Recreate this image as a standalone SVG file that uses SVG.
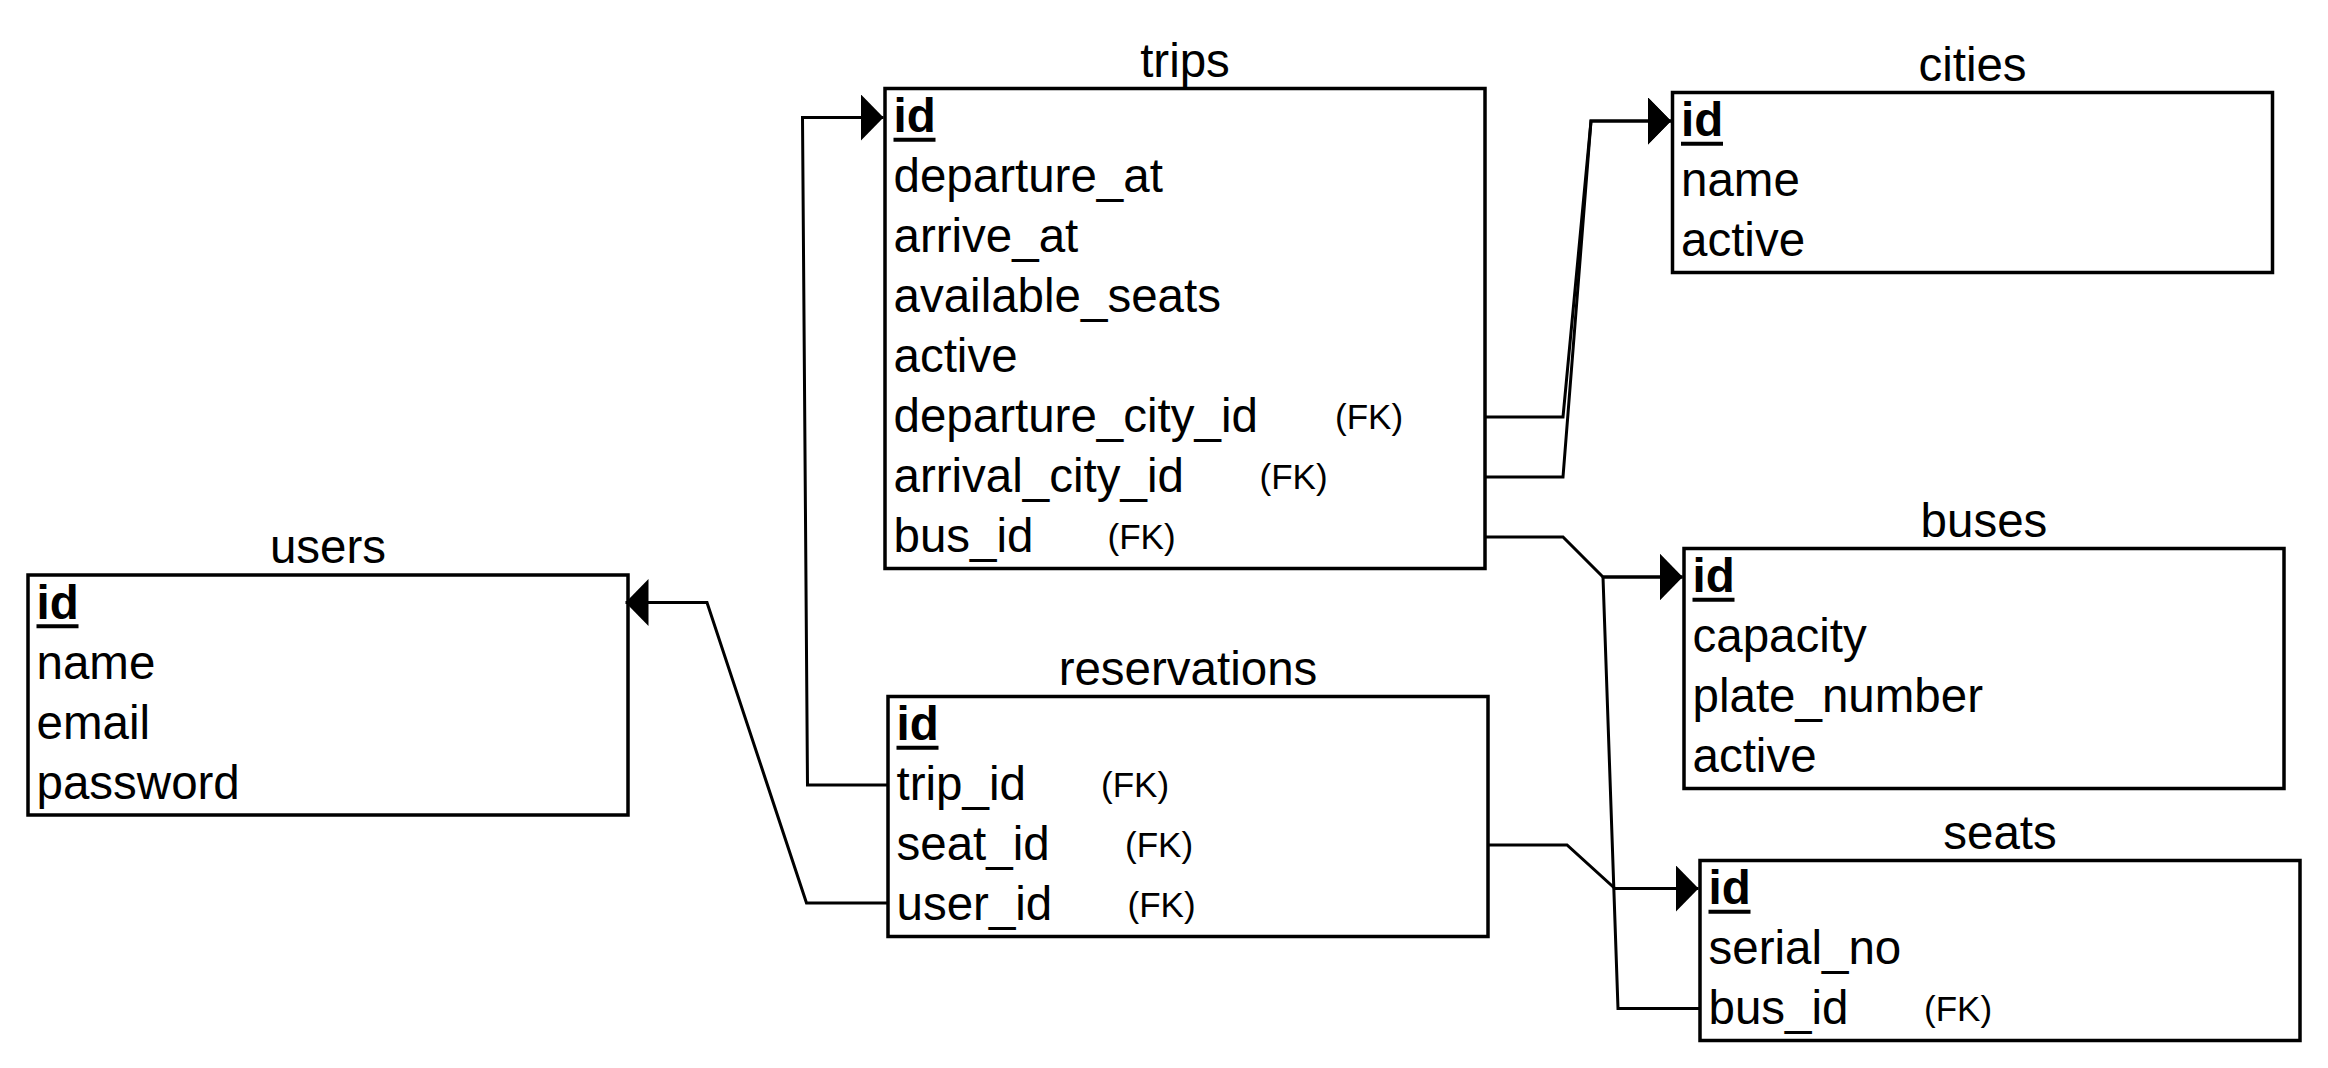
<svg xmlns="http://www.w3.org/2000/svg" width="2328" height="1068" viewBox="0 0 2328 1068">
<style>
.box{fill:#fff;stroke:#000;stroke-width:3.5}
.t{font-family:"Liberation Sans",Arial,sans-serif;font-size:47.5px;fill:#000}
.title{text-anchor:middle}
.pk{font-weight:bold}
.fk{font-size:35px}
.ul{stroke:#000;stroke-width:4}
.conn{fill:none;stroke:#000;stroke-width:3;stroke-linejoin:miter}
</style>
<defs>
<marker id="arrow" markerUnits="userSpaceOnUse" viewBox="0 0 23 47" refX="23" refY="23.5" markerWidth="23" markerHeight="47" orient="auto">
<path d="M0,0 L23,23.5 L0,47 Z" fill="#000"/>
</marker>
</defs>
<rect width="2328" height="1068" fill="#fff"/>

<g id="trips">
<text class="t title" x="1185" y="76.8">trips</text>
<rect class="box" x="885" y="88.5" width="600" height="480"/>
<text class="t pk" x="893.5" y="132">id</text>
<line class="ul" x1="893.5" y1="139.7" x2="935.5" y2="139.7"/>
<text class="t" x="893.5" y="192">departure_at</text>
<text class="t" x="893.5" y="252">arrive_at</text>
<text class="t" x="893.5" y="312">available_seats</text>
<text class="t" x="893.5" y="372">active</text>
<text class="t" x="893.5" y="432">departure_city_id</text>
<text class="t fk" x="1335" y="429">(FK)</text>
<text class="t" x="893.5" y="492">arrival_city_id</text>
<text class="t fk" x="1259.5" y="489">(FK)</text>
<text class="t" x="893.5" y="552">bus_id</text>
<text class="t fk" x="1107.5" y="549">(FK)</text>
</g>

<g id="cities">
<text class="t title" x="1972.5" y="80.8">cities</text>
<rect class="box" x="1672.5" y="92.5" width="600" height="180"/>
<text class="t pk" x="1681" y="136">id</text>
<line class="ul" x1="1681" y1="143.7" x2="1723" y2="143.7"/>
<text class="t" x="1681" y="196">name</text>
<text class="t" x="1681" y="256">active</text>
</g>

<g id="users">
<text class="t title" x="328" y="563.3">users</text>
<rect class="box" x="28" y="575" width="600" height="240"/>
<text class="t pk" x="36.5" y="618.5">id</text>
<line class="ul" x1="36.5" y1="626.2" x2="78.5" y2="626.2"/>
<text class="t" x="36.5" y="678.5">name</text>
<text class="t" x="36.5" y="738.5">email</text>
<text class="t" x="36.5" y="798.5">password</text>
</g>

<g id="reservations">
<text class="t title" x="1188" y="684.8">reservations</text>
<rect class="box" x="888" y="696.5" width="600" height="240"/>
<text class="t pk" x="896.5" y="740">id</text>
<line class="ul" x1="896.5" y1="747.7" x2="938.5" y2="747.7"/>
<text class="t" x="896.5" y="800">trip_id</text>
<text class="t fk" x="1101" y="797">(FK)</text>
<text class="t" x="896.5" y="860">seat_id</text>
<text class="t fk" x="1125" y="857">(FK)</text>
<text class="t" x="896.5" y="920">user_id</text>
<text class="t fk" x="1127.5" y="917">(FK)</text>
</g>

<g id="buses">
<text class="t title" x="1984" y="536.8">buses</text>
<rect class="box" x="1684" y="548.5" width="600" height="240"/>
<text class="t pk" x="1692.5" y="592">id</text>
<line class="ul" x1="1692.5" y1="599.7" x2="1734.5" y2="599.7"/>
<text class="t" x="1692.5" y="652">capacity</text>
<text class="t" x="1692.5" y="712">plate_number</text>
<text class="t" x="1692.5" y="772">active</text>
</g>

<g id="seats">
<text class="t title" x="2000" y="848.8">seats</text>
<rect class="box" x="1700" y="860.5" width="600" height="180"/>
<text class="t pk" x="1708.5" y="904">id</text>
<line class="ul" x1="1708.5" y1="911.7" x2="1750.5" y2="911.7"/>
<text class="t" x="1708.5" y="964">serial_no</text>
<text class="t" x="1708.5" y="1024">bus_id</text>
<text class="t fk" x="1924" y="1021">(FK)</text>
</g>

<g id="connectors">
<path class="conn" d="M888,785 H807.5 L802.5,117.5 H883.5" marker-end="url(#arrow)"/>
<path class="conn" d="M888,903 H806.5 L707,602.5 H625.5" marker-end="url(#arrow)"/>
<path class="conn" d="M1485,417 H1563 L1591,121 H1671" marker-end="url(#arrow)"/>
<path class="conn" d="M1485,477 H1563 L1591,121 H1671" marker-end="url(#arrow)"/>
<path class="conn" d="M1485,537 H1563 L1603,577 H1682.5" marker-end="url(#arrow)"/>
<path class="conn" d="M1700,1008.5 H1618 L1603,577 H1682.5" marker-end="url(#arrow)"/>
<path class="conn" d="M1488,845 H1567 L1615,888.5 H1698.5" marker-end="url(#arrow)"/>
</g>
</svg>
